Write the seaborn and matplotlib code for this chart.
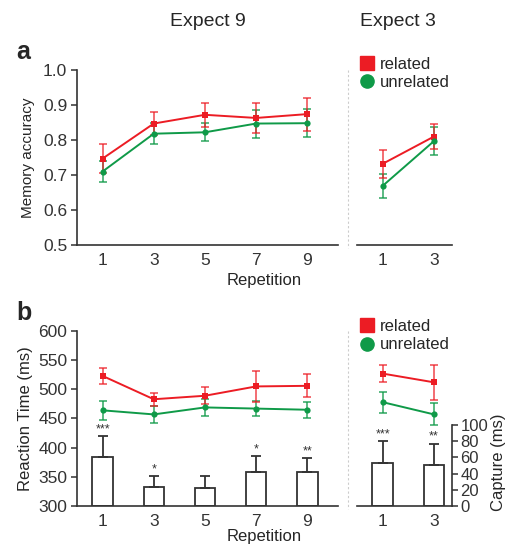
import numpy as np
import pandas as pd
import matplotlib
matplotlib.use("Agg")
import matplotlib.pyplot as plt
from matplotlib.lines import Line2D
import seaborn as sns

# valores
rep9 = [1, 3, 5, 7, 9]
rep3 = [1, 3]

acc_rel_9 = [0.747, 0.847, 0.872, 0.863, 0.874]
acc_rel_9_err = [0.042, 0.033, 0.035, 0.044, 0.047]
acc_unr_9 = [0.710, 0.818, 0.822, 0.847, 0.848]
acc_unr_9_err = [0.030, 0.030, 0.026, 0.040, 0.040]
acc_rel_3 = [0.732, 0.810]
acc_rel_3_err = [0.040, 0.036]
acc_unr_3 = [0.669, 0.797]
acc_unr_3_err = [0.035, 0.039]

rt_rel_9 = [523, 483, 489, 505, 506]
rt_rel_9_err = [14, 11, 15, 27, 20]
rt_unr_9 = [464, 457, 469, 467, 465]
rt_unr_9_err = [16, 14, 15, 13, 14]
rt_rel_3 = [527, 512]
rt_rel_3_err = [15, 30]
rt_unr_3 = [478, 457]
rt_unr_3_err = [18, 19]

cap_9 = [60, 23, 22, 42, 42]
cap_9_err = [26, 14, 15, 20, 17]
cap_3 = [53, 50]
cap_3_err = [27, 27]
stars_9 = ["***", "*", "", "*", "**"]
stars_3 = ["***", "**"]

RED = "#ec1c24"
GREEN = "#0f9a48"
DARK = "#333333"

sns.set_style("ticks")
plt.rcParams["font.family"] = ["Liberation Sans", "DejaVu Sans"]
plt.rcParams["axes.edgecolor"] = DARK
plt.rcParams["xtick.color"] = DARK
plt.rcParams["ytick.color"] = DARK

fig = plt.figure(figsize=(5.08, 5.46), dpi=100)
W, H = 508, 546


def box(x0, x1, ytop, ybot):
    return [x0 / W, 1 - ybot / H, (x1 - x0) / W, (ybot - ytop) / H]


# eixos de captura por baixo das linhas
cap_top = 216
cx9 = fig.add_axes(box(77, 338, 331, 506))
cx3 = fig.add_axes(box(357, 452, 331, 506))

ax_a9 = fig.add_axes(box(77, 338, 70, 245))
ax_a3 = fig.add_axes(box(357, 452, 70, 245))
ax_b9 = fig.add_axes(box(77, 338, 331, 506))
ax_b3 = fig.add_axes(box(357, 452, 331, 506))


def draw_bars(ax, x, vals, errs, stars):
    ax.bar(x, vals, width=0.8, color="white", edgecolor=DARK, linewidth=1.3, zorder=1)
    ax.errorbar(x, vals, yerr=[np.zeros(len(errs)), errs], fmt="none",
                ecolor=DARK, elinewidth=1.3, capsize=3.5, capthick=1.3)
    for xi, v, e, s in zip(x, vals, errs, stars):
        if s:
            ax.text(xi, v + e + 1, s, ha="center", va="bottom", fontsize=9, color=DARK)
    ax.set_ylim(0, cap_top)
    for sp in ("top", "left", "bottom", "right"):
        ax.spines[sp].set_visible(False)
    ax.tick_params(axis="both", left=False, labelleft=False, bottom=False, labelbottom=False)
    ax.patch.set_visible(False)


draw_bars(cx9, rep9, cap_9, cap_9_err, stars_9)
cx9.set_xlim(0, 10.2)
draw_bars(cx3, rep3, cap_3, cap_3_err, stars_3)
cx3.set_xlim(0, 3.7)
cx3.set_xticks(rep3)
cx3.spines["bottom"].set_visible(True)
cx3.spines["bottom"].set_linewidth(1.2)
cx3.tick_params(axis="x", bottom=False, labelbottom=True, labelsize=12.5, length=0, pad=6)
cx3.spines["right"].set_visible(True)
cx3.spines["right"].set_bounds(0, 100)
cx3.spines["right"].set_linewidth(1.2)
cx3.set_yticks(range(0, 101, 20))
cx3.tick_params(axis="y", left=False, labelleft=False, right=True, labelright=True,
                labelsize=12, length=4, width=1.1, pad=2)
fig.text(499 / W, 1 - 462 / H, "Capture (ms)", rotation=90, ha="center", va="center",
         fontsize=12)


def draw_lines(ax, x, rel, rel_err, unr, unr_err):
    df = pd.DataFrame({
        "rep": list(x) * 2,
        "val": list(rel) + list(unr),
        "cond": ["related"] * len(x) + ["unrelated"] * len(x),
    })
    ax.errorbar(x, unr, yerr=unr_err, fmt="none", ecolor=GREEN, alpha=0.8,
                elinewidth=1.2, capsize=3, capthick=1.2, zorder=2)
    ax.errorbar(x, rel, yerr=rel_err, fmt="none", ecolor=RED, alpha=0.75,
                elinewidth=1.2, capsize=3, capthick=1.2, zorder=2)
    sns.lineplot(data=df, x="rep", y="val", hue="cond", style="cond",
                 palette={"related": RED, "unrelated": GREEN},
                 markers={"related": "s", "unrelated": "o"}, dashes=False,
                 markersize=4.5, markeredgewidth=0, linewidth=1.4,
                 legend=False, ax=ax, zorder=3)
    ax.set_xlabel("")
    ax.set_ylabel("")


draw_lines(ax_a9, rep9, acc_rel_9, acc_rel_9_err, acc_unr_9, acc_unr_9_err)
draw_lines(ax_a3, rep3, acc_rel_3, acc_rel_3_err, acc_unr_3, acc_unr_3_err)
draw_lines(ax_b9, rep9, rt_rel_9, rt_rel_9_err, rt_unr_9, rt_unr_9_err)
draw_lines(ax_b3, rep3, rt_rel_3, rt_rel_3_err, rt_unr_3, rt_unr_3_err)

for ax in (ax_a9, ax_a3):
    ax.set_ylim(0.5, 1.0)
    ax.set_yticks([0.5, 0.6, 0.7, 0.8, 0.9, 1.0])
ax_a9.set_yticklabels(["0.5", "0.6", "0.7", "0.8", "0.9", "1.0"])
for ax in (ax_b9, ax_b3):
    ax.set_ylim(300, 600)
    ax.set_yticks(range(300, 601, 50))

for ax in (ax_a9, ax_a3, ax_b9):
    sns.despine(ax=ax)
    ax.spines["left"].set_linewidth(1.2)
    ax.spines["bottom"].set_linewidth(1.2)
    ax.tick_params(labelsize=12.5, length=4, width=1.1, pad=3)
    ax.tick_params(axis="x", length=0, pad=6)
    ax.set_facecolor("none")

for ax in (ax_a9, ax_b9):
    ax.set_xlim(0, 10.2)
    ax.set_xticks(rep9)
for ax in (ax_a3, ax_b3):
    ax.set_xlim(0, 3.7)
    ax.set_xticks(rep3)
ax_a3.spines["left"].set_visible(False)
ax_a3.tick_params(axis="y", left=False, labelleft=False)
# painel b da direita: eixo base vem do eixo de captura
ax_b3.set_axis_off()

# rotulos
ax_a9.set_ylabel("Memory accuracy", fontsize=11, labelpad=6)
ax_b9.set_ylabel("Reaction Time (ms)", fontsize=12, labelpad=4)
fig.text(264 / W, 1 - 281 / H, "Repetition", ha="center", va="center", fontsize=12)
fig.text(264 / W, 1 - 537 / H, "Repetition", ha="center", va="center", fontsize=12)
fig.text(208 / W, 1 - 22 / H, "Expect 9", ha="center", va="center", fontsize=14)
fig.text(398 / W, 1 - 22 / H, "Expect 3", ha="center", va="center", fontsize=14)
fig.text(16 / W, 1 - 52 / H, "a", ha="left", va="center", fontsize=18, fontweight="bold")
fig.text(16 / W, 1 - 313 / H, "b", ha="left", va="center", fontsize=18, fontweight="bold")

# separador
for y0, y1 in ((70, 248), (331, 509)):
    fig.add_artist(Line2D([348 / W, 348 / W], [1 - y0 / H, 1 - y1 / H], color="#cccccc",
                          linestyle=(0, (2, 2)), linewidth=0.8))

# legendas
handles = [Line2D([], [], marker="s", color=RED, linestyle="none", markersize=9.5),
           Line2D([], [], marker="o", color=GREEN, linestyle="none", markersize=9.5)]
for ax, ytop in ((ax_a3, 57), (ax_b3, 319)):
    ax.legend(handles, ["related", "unrelated"], loc="upper left",
              bbox_to_anchor=(360 / W, 1 - ytop / H), bbox_transform=fig.transFigure,
              frameon=False, fontsize=12, handlelength=0.8, handletextpad=0.4,
              labelspacing=0.2, borderpad=0, borderaxespad=0)

# limpeza: some com qualquer traco vertical solto na borda esquerda do painel b da direita
fig.canvas.draw()
r = fig.canvas.get_renderer()
for a in fig.findobj():
    if a is fig or not a.get_visible() or isinstance(a, matplotlib.axes.Axes):
        continue
    if isinstance(a, matplotlib.text.Text):
        continue
    try:
        bb = a.get_window_extent(r)
    except Exception:
        continue
    xc = (bb.x0 + bb.x1) / 2
    if bb.width < 25 and bb.height > 120 and 351 <= xc <= 364 and bb.y0 < 70 and bb.y1 < 260:
        a.set_visible(False)

fig.savefig("out.png", dpi=100)
